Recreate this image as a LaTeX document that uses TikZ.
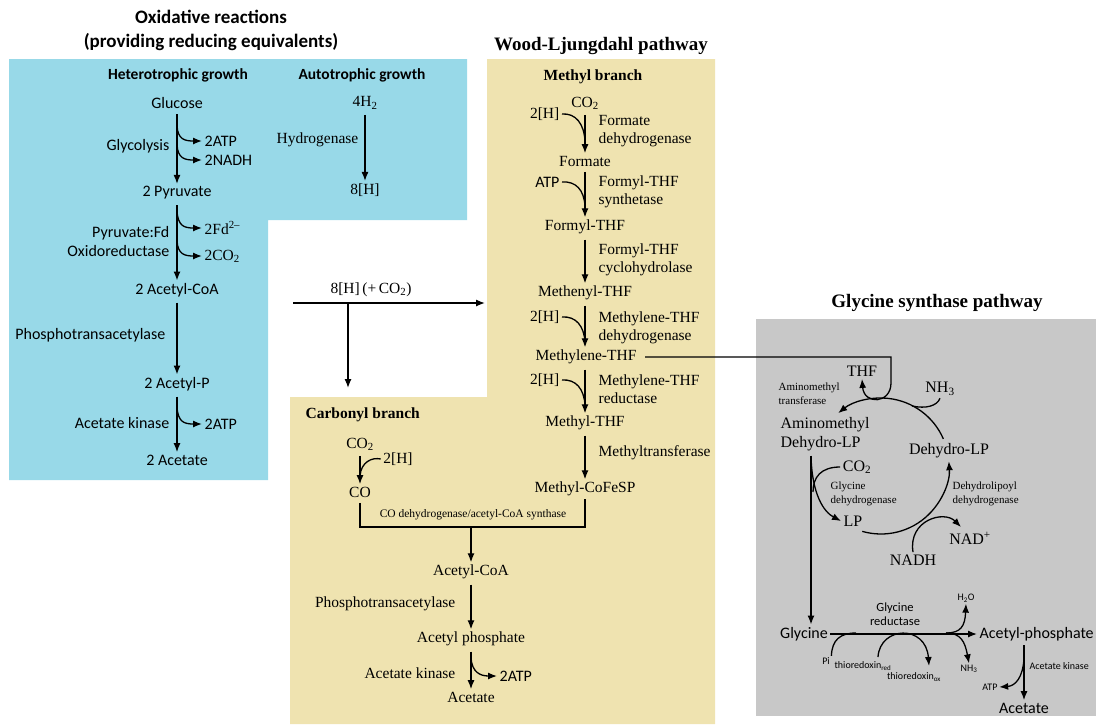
\documentclass[tikz,border=0pt]{standalone}
\usepackage{fontspec}
\setmainfont{Liberation Serif}
\setsansfont{Carlito}
\usetikzlibrary{arrows.meta}
\definecolor{oxblue}{RGB}{152,217,232}
\definecolor{wltan}{RGB}{239,227,176}
\definecolor{gsgrey}{RGB}{200,200,200}
\tikzset{
	sf/.style={font=\sffamily\fontsize{16}{19}\selectfont,inner sep=2pt,align=right},
	sfbold/.style={font=\sffamily\bfseries\fontsize{15.5}{18}\selectfont,inner sep=2pt},
	sfhead/.style={font=\sffamily\bfseries\fontsize{19}{24}\selectfont,align=center},
	rm/.style={font=\fontsize{15.5}{18.5}\selectfont,inner sep=2pt,align=left},
	rmbold/.style={font=\bfseries\fontsize{15.5}{18}\selectfont,inner sep=2pt},
	rmhead/.style={font=\bfseries\fontsize{19}{22}\selectfont},
	rmtiny/.style={font=\fontsize{11.5}{13}\selectfont,inner sep=1pt},
	rmg/.style={font=\fontsize{16}{19}\selectfont,inner sep=2pt,align=left},
	rmsmall/.style={font=\fontsize{11}{14}\selectfont,inner sep=1pt,align=left},
	sfg/.style={font=\sffamily\fontsize{16}{19}\selectfont,inner sep=2pt},
	sfsmall/.style={font=\sffamily\fontsize{12.5}{14}\selectfont,inner sep=1pt,align=center},
	sftiny/.style={font=\sffamily\fontsize{10}{11}\selectfont,inner sep=1pt},
	flow/.style={->,shorten <=3pt}
}
\begin{document}
\begin{tikzpicture}[x=1pt,y=-1pt,>={Latex[length=9pt,width=7pt]},line width=1.3pt]
	\useasboundingbox (0,0) rectangle (1096,724);
	\fill[oxblue] (9,59)--(467,59)--(467,220)--(268,220)--(268,480)--(9,480)--cycle;
	\fill[wltan] (487,59)--(715,59)--(715,724)--(290,724)--(290,397)--(487,397)--cycle;
	\fill[gsgrey] (756,319) rectangle (1096,716);
	% titles
	\node[sfhead] (oxtitle) at (211,30) {Oxidative reactions\\(providing reducing equivalents)};
	\node[rmhead] (wltitle) at (601,46) {Wood-Ljungdahl pathway};
	\node[rmhead] (gstitle) at (937,303) {Glycine synthase pathway};
	% oxidative reactions
	\node[sfbold] (hetero) at (178,75) {Heterotrophic growth};
	\node[sfbold] (autotr) at (362,75) {Autotrophic growth};
	\node[sf] (glucose) at (177,103) {Glucose};
	\node[sf] (pyruvate) at (177,193) {2 Pyruvate};
	\node[sf] (acoa) at (177,290) {2 Acetyl-CoA};
	\node[sf] (acp) at (177,384) {2 Acetyl-P};
	\node[sf] (acetate) at (177,460) {2 Acetate};
	\node[sf,anchor=east] (glycolysis) at (172,146) {Glycolysis};
	\node[sf,anchor=east] (pfor) at (172,241) {Pyruvate:Fd\\Oxidoreductase};
	\node[sf,anchor=east] (pta) at (168,335) {Phosphotransacetylase};
	\node[sf,anchor=east] (acka) at (172,423) {Acetate kinase};
	\node[sf,anchor=west] (atpa) at (202,141) {2ATP};
	\node[sf,anchor=west] (nadh) at (202,160) {2NADH};
	\node[rm,anchor=west] (fd) at (202,228) {2Fd\textsuperscript{2--}};
	\node[rm,anchor=west] (co2a) at (202,256) {2CO\textsubscript{2}};
	\node[sf,anchor=west] (atpb) at (202,424) {2ATP};
	\coordinate (ga) at (177,126);
	\coordinate (gb) at (177,145);
	\coordinate (pa) at (177,211);
	\coordinate (pb) at (177,241);
	\coordinate (ka) at (177,407);
	\draw[flow] (glucose)--(pyruvate);
	\draw[flow] (pyruvate)--(acoa);
	\draw[flow] (acoa)--(acp);
	\draw[flow] (acp)--(acetate);
	\draw[->] (ga) .. controls (178,139) and (184,141) .. (atpa.west);
	\draw[->] (gb) .. controls (178,158) and (184,160) .. (nadh.west);
	\draw[->] (pa) .. controls (178,226) and (184,228) .. (fd.west);
	\draw[->] (pb) .. controls (178,254) and (184,256) .. (co2a.west);
	\draw[->] (ka) .. controls (178,422) and (184,424) .. (atpb.west);
	\node[rm] (htwo) at (365,103) {4H\textsubscript{2}};
	\node[rm] (hbr) at (365,190) {8[H]};
	\node[rm,anchor=east] (hydrog) at (361,140) {Hydrogenase};
	\draw[flow] (htwo)--(hbr);
	% reducing equivalents
	\node[rm] (hco) at (371,290) {8[H]\,(+\,CO\textsubscript{2})};
	\coordinate (hstart) at (293,303);
	\coordinate (hsplit) at (348,303);
	\coordinate (hend) at (485,303);
	\coordinate (cdown) at (348,388);
	\draw[->] (hstart)--(hend);
	\draw[->] (hsplit)--(cdown);
	% methyl branch
	\node[rmbold] (methyl) at (593,77) {Methyl branch};
	\node[rm] (co2m) at (585,103) {CO\textsubscript{2}};
	\node[rm] (formate) at (585,161) {Formate};
	\node[rm] (formyl) at (585,227) {Formyl-THF};
	\node[rm] (methenyl) at (585,293) {Methenyl-THF};
	\node[rm] (methylene) at (586,357) {Methylene-THF};
	\node[rm] (mthf) at (585,423) {Methyl-THF};
	\node[rm] (mcofesp) at (585,489) {Methyl-CoFeSP};
	\node[rm,anchor=west] (fdh) at (596,131) {Formate\\dehydrogenase};
	\node[rm,anchor=west] (ftsyn) at (596,192) {Formyl-THF\\synthetase};
	\node[rm,anchor=west] (ftcyc) at (596,260) {Formyl-THF\\cyclohydrolase};
	\node[rm,anchor=west] (mtdh) at (596,328) {Methylene-THF\\dehydrogenase};
	\node[rm,anchor=west] (mtred) at (596,389) {Methylene-THF\\reductase};
	\node[rm,anchor=west] (mtrans) at (596,453) {Methyltransferase};
	\node[rm,anchor=east] (ha) at (562,114) {2[H]};
	\node[sf,anchor=east] (atpm) at (562,182) {ATP};
	\node[rm,anchor=east] (hb) at (562,317) {2[H]};
	\node[rm,anchor=east] (hc) at (562,380) {2[H]};
	\coordinate (ja) at (585,141);
	\coordinate (jb) at (585,206);
	\coordinate (jc) at (585,342);
	\coordinate (jd) at (585,405);
	\draw[flow] (co2m)--(formate);
	\draw[flow] (formate)--(formyl);
	\draw[flow] (formyl)--(methenyl);
	\draw[flow] (methenyl)--(methenyl.south|-methylene.north);
	\draw[flow] (methenyl.south|-methylene.south)--(mthf);
	\draw[flow] (mthf)--(mcofesp);
	\draw (ha.east) .. controls (576,113) and (584,124) .. (ja);
	\draw (atpm.east) .. controls (576,181) and (584,190) .. (jb);
	\draw (hb.east) .. controls (576,316) and (584,326) .. (jc);
	\draw (hc.east) .. controls (576,379) and (584,389) .. (jd);
	% carbonyl branch
	\node[rmbold,anchor=west] (carbonyl) at (303,415) {Carbonyl branch};
	\node[rm] (co2c) at (360,444) {CO\textsubscript{2}};
	\node[rm] (co) at (360,492) {CO};
	\node[rm] (hd) at (398,459) {2[H]};
	\coordinate (je) at (360,476);
	\draw[flow] (co2c)--(co);
	\draw (hd.west) .. controls (372,457) and (361,462) .. (je);
	\coordinate (bl) at (360,527);
	\coordinate (br) at (585,527);
	\coordinate (bm) at (471,527);
	\draw[shorten <=3pt] (co.south)--(bl)--(br)--(mcofesp.south);
	\node[rmtiny] (codh) at (473,515) {CO dehydrogenase/acetyl-CoA synthase};
	\node[rm] (acoam) at (471,572) {Acetyl-CoA};
	\node[rm] (acpm) at (471,639) {Acetyl phosphate};
	\node[rm] (acetm) at (471,697) {Acetate};
	\node[rm,anchor=east] (ptam) at (458,604) {Phosphotransacetylase};
	\node[rm,anchor=east] (ackm) at (458,673) {Acetate kinase};
	\node[sf,anchor=west] (atpm2) at (497,676) {2ATP};
	\coordinate (km) at (471,658);
	\draw[->] (bm)--(acoam);
	\draw[flow] (acoam)--(acpm);
	\draw[flow] (acpm)--(acetm);
	\draw[->] (km) .. controls (472,672) and (480,676) .. (atpm2.west);
	% glycine synthase pathway
	\node[rmg] (thf) at (862,371) {THF};
	\node[rmsmall,anchor=west] (amt) at (777,394) {Aminomethyl\\transferase};
	\node[rmg] (nh3a) at (940,389) {NH\textsubscript{3}};
	\node[rmg,anchor=west] (amdlp) at (778,434) {Aminomethyl\\Dehydro-LP};
	\node[rmg] (dlp) at (949,451) {Dehydro-LP};
	\node[rmg] (co2g) at (857,467) {CO\textsubscript{2}};
	\node[rmsmall,anchor=west] (gdh) at (829,494) {Glycine\\dehydrogenase};
	\node[rmsmall,anchor=west] (dldh) at (951,494) {Dehydrolipoyl\\dehydrogenase};
	\node[rmg] (lp) at (853,521) {LP};
	\node[rmg] (nadp) at (970,538) {NAD\textsuperscript{+}};
	\node[rmg] (nadhg) at (913,560) {NADH};
	\coordinate (cyc) at (881,466);
	\coordinate (gturn) at (891,383);
	\coordinate (nhj) at (912,406);
	\coordinate (amdown) at (811,456);
	\coordinate (cojoin) at (813,492);
	\coordinate (nadtip) at (961,527);
	\draw[->,shorten <=6pt] (methylene.east)-|(gturn) .. controls (891,404) and (864,405) .. (thf.south);
	\draw[->] (cyc) ++(-23.5:68) arc[start angle=-23.5,end angle=-129,radius=68];
	\draw[->] (cyc) ++(106:68) arc[start angle=106,end angle=-4,radius=68];
	\draw (nh3a.south) .. controls (937,406) and (926,409) .. (nhj);
	\draw[->] (amdown) .. controls (812,495) and (824,512) .. (lp.west);
	\draw (co2g.west) .. controls (821,467) and (813,477) .. (cojoin);
	\draw[->] (nadhg.north) .. controls (908,520) and (944,510) .. (nadtip);
	% glycine reductase
	\node[sfg] (glyc) at (804,634) {Glycine};
	\node[sfg,anchor=west] (acph) at (977,634) {Acetyl-phosphate};
	\node[sfg] (acetg) at (1024,708) {Acetate};
	\node[sfsmall] (glyred) at (895,614) {Glycine\\reductase};
	\node[sftiny] (h2o) at (966,598) {H\textsubscript{2}O};
	\node[sftiny] (nh3b) at (969,669) {NH\textsubscript{3}};
	\node[sftiny] (pi) at (826,661) {Pi};
	\node[sftiny] (thred) at (863,666) {thioredoxin\textsubscript{red}};
	\node[sftiny] (thox) at (914,677) {thioredoxin\textsubscript{ox}};
	\node[sftiny] (atpg) at (990,687) {ATP};
	\node[sftiny,anchor=west] (ackg) at (1028,666) {Acetate kinase};
	\coordinate (rsplit) at (946,633);
	\coordinate (pijoin) at (856,633);
	\coordinate (thstart) at (878,657);
	\coordinate (thend) at (929,666);
	\coordinate (apdown) at (1024,645);
	\coordinate (akj) at (1024,658);
	\draw[->] (amdown)--(amdown|-glyc.north);
	\draw[->] (glyc.east)--(acph.west);
	\draw[->] (rsplit) .. controls (961,633) and (965,626) .. (h2o.south);
	\draw[->] (rsplit) .. controls (961,633) and (965,642) .. (nh3b.north);
	\draw (pi.north east) .. controls (832,640) and (840,633) .. (pijoin);
	\draw[->] (thstart) .. controls (880,626) and (926,624) .. (thend);
	\draw[->] (apdown)--(acetg.north);
	\draw[->] (akj) .. controls (1023,678) and (1015,686) .. (atpg.east);
\end{tikzpicture}
\end{document}
